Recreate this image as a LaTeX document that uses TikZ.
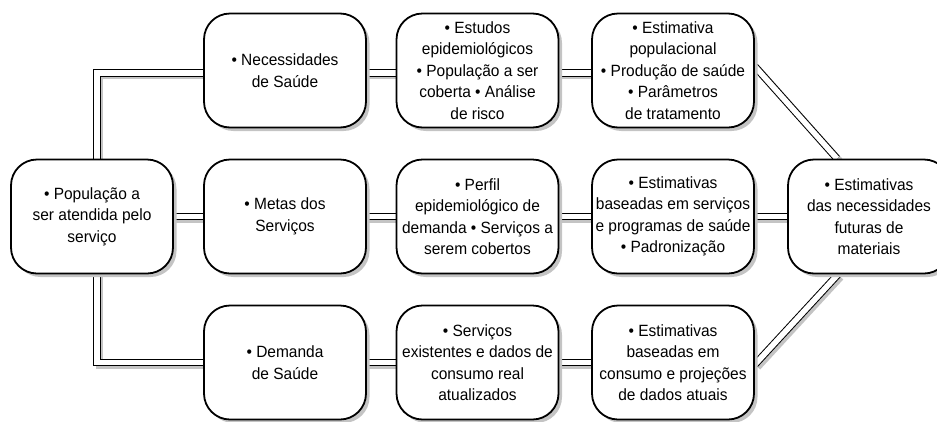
\documentclass[tikz,border=0pt]{standalone}
\usepackage{fontspec}
\setmainfont{Liberation Sans}[FakeStretch=0.95]
\usetikzlibrary{shadows,backgrounds}
\definecolor{shadowgray}{HTML}{C4C4C4}
\tikzset{
  box/.style={draw=black, line width=1.8pt, fill=white, rounded corners=26pt,
    minimum width=162pt, minimum height=114pt, align=center, inner sep=2pt,
    font=\fontsize{16.3}{21.5}\selectfont,
    drop shadow={shadow xshift=3.5pt, shadow yshift=-3.5pt, fill=shadowgray, opacity=1}},
  conn/.style={draw=black, line width=1pt, double=white, double distance=5.5pt, line join=miter},
  connsh/.style={draw=shadowgray, line width=7.5pt, line join=miter,
    transform canvas={shift={(2.5pt,-2.5pt)}}}
}
\newcommand\myconn[1]{\draw[connsh] #1; \draw[conn] #1;}
\begin{document}
\begin{tikzpicture}[x=1pt,y=-1pt]
\useasboundingbox (0,0) rectangle (937,421);
\node[box] (pop) at (92,216.5) {• População a\\ser atendida pelo\\serviço};
\node[box] (nec) at (285,70.5) {• Necessidades\\de Saúde};
\node[box] (met) at (285,216.5) {• Metas dos\\Serviços};
\node[box] (dem) at (285,362.5) {• Demanda\\de Saúde};
\node[box] (est) at (477.5,70.5) {• Estudos\\epidemiológicos\\• População a ser\\coberta • Análise\\de risco};
\node[box] (per) at (477.5,216.5) {• Perfil\\epidemiológico de\\demanda • Serviços a\\serem cobertos};
\node[box] (ser) at (477.5,362.5) {• Serviços\\existentes e dados de\\consumo real\\atualizados};
\node[box] (pro) at (673,70.5) {• Estimativa\\populacional\\• Produção de saúde\\• Parâmetros\\de tratamento};
\node[box] (bas) at (673,216.5) {• Estimativas\\baseadas em serviços\\e programas de saúde\\• Padronização};
\node[box] (con) at (673,362.5) {• Estimativas\\baseadas em\\consumo e projeções\\de dados atuais};
\node[box] (fut) at (869,216.5) {• Estimativas\\das necessidades\\futuras de\\materiais};
\begin{scope}[on background layer]
\myconn{([xshift=5pt]pop.north) |- ([yshift=-2.5pt]nec.west)}
\myconn{([xshift=5pt]pop.south) |- (dem.west)}
\myconn{([yshift=-2.5pt]nec.east) -- ([yshift=-2.5pt]est.west)}
\myconn{([yshift=-2.5pt]est.east) -- ([yshift=-2.5pt]pro.west)}
\myconn{(pop.east) -- (met.west)}
\myconn{(met.east) -- (per.west)}
\myconn{(per.east) -- (bas.west)}
\myconn{(bas.east) -- (fut.west)}
\myconn{(dem.east) -- (ser.west)}
\myconn{(ser.east) -- (con.west)}
\myconn{([yshift=4pt]pro.east) -- ([xshift=-32pt]fut.north)}
\myconn{([yshift=-2pt]con.east) -- ([xshift=-31pt]fut.south)}
\end{scope}
\end{tikzpicture}
\end{document}
